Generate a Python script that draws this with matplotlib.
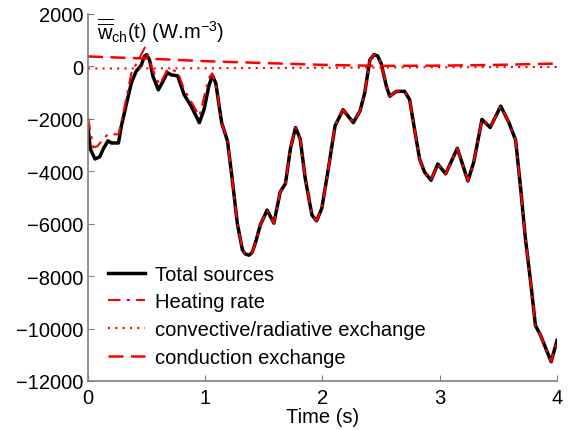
import matplotlib
matplotlib.use('Agg')
import matplotlib.pyplot as plt

plt.rcParams['font.family'] = ['Liberation Sans', 'DejaVu Sans']
plt.rcParams['mathtext.fontset'] = 'custom'
plt.rcParams['mathtext.rm'] = 'Liberation Sans'
plt.rcParams['mathtext.it'] = 'Liberation Sans'

# Total sources (black)
total_t = [0.00, 0.02, 0.06, 0.10, 0.13, 0.17, 0.20, 0.26, 0.285, 0.33, 0.37, 0.41,
           0.455, 0.48, 0.50, 0.525, 0.555, 0.60, 0.64, 0.675, 0.71, 0.765, 0.82, 0.88,
           0.95, 0.99, 1.03, 1.06, 1.09, 1.14, 1.19, 1.23, 1.274, 1.317, 1.34, 1.373,
           1.40, 1.43, 1.47, 1.528, 1.585, 1.64, 1.684, 1.726, 1.77, 1.81, 1.853, 1.91,
           1.95, 1.994, 2.05, 2.107, 2.175, 2.263, 2.32, 2.36, 2.404, 2.44, 2.47, 2.50,
           2.545, 2.574, 2.63, 2.70, 2.743, 2.785, 2.828, 2.87, 2.926, 2.983, 3.05,
           3.15, 3.24, 3.29, 3.36, 3.43, 3.52, 3.59, 3.647, 3.69, 3.73, 3.774,
           3.816, 3.86, 3.95, 4.00]
total_v = [-2270, -3150, -3530, -3450, -3150, -2840, -2920, -2920, -2270, -1390, -630, -195,
           55, 380, 450, 245, -385, -890, -570, -235, -320, -360, -1075, -1515,
           -2145, -1640, -760, -340, -635, -2145, -2850, -4300, -6000, -7000, -7150, -7200,
           -7100, -6700, -6045, -5480, -5980, -4785, -4470, -3150, -2330, -2770, -4280, -5670,
           -5890, -5415, -3900, -2270, -1650, -2145, -1700, -1010, 245, 450, 400, 120,
           -760, -1140, -950, -950, -1265, -2400, -3530, -4030, -4345, -3720, -4100,
           -3120, -4370, -3650, -2020, -2330, -1515, -2145, -2810, -4660, -6550, -8180,
           -9880, -10260, -11265, -10450]

# Heating rate: differs from total before ~1.15 s, then follows it
heat_early_t = [0.00, 0.045, 0.08, 0.13, 0.17, 0.26, 0.30, 0.37, 0.43, 0.485, 0.54,
                0.61, 0.68, 0.765, 0.82, 0.95, 1.03, 1.06, 1.10]
heat_early_v = [-1950, -3090, -3050, -2770, -2590, -2590, -1800, -260, 250, 720, 0,
                -700, -100, -195, -880, -1890, -450, -260, -890]
heat_t = heat_early_t + total_t[29:]
heat_v = heat_early_v + total_v[29:]

# Convective / radiative exchange
conv_t = [0.0, 1.0, 2.0, 3.0, 4.0]
conv_v = [-80, -70, -50, -30, -20]

# Conduction exchange
cond_t = [0.0, 0.5, 1.0, 1.5, 2.0, 2.5, 3.0, 3.5, 4.0]
cond_v = [380, 300, 200, 130, 60, 20, 30, 60, 110]

fs = 14.5

fig = plt.figure(figsize=(5.72, 4.31), dpi=100)
ax = fig.add_axes([0.1538, 0.1137, 0.8200, 0.8515])

ax.plot(total_t, total_v, color='black', lw=2.5, label='Total sources')
ax.plot(heat_t, heat_v, color='red', lw=1.5, linestyle=(0, (6, 3, 1.5, 3)), label='Heating rate')
ax.plot(conv_t, conv_v, color='red', lw=1.5, linestyle=(0, (1, 2.5)), label='convective/radiative exchange')
ax.plot(cond_t, cond_v, color='red', lw=1.8, linestyle=(0, (6, 3)), label='conduction exchange')

ax.set_xlim(0, 4)
ax.set_ylim(-12000, 2000)
ax.set_xticks([0, 1, 2, 3, 4])
ax.set_yticks(range(-12000, 2001, 2000))
ax.spines['top'].set_visible(False)
ax.spines['right'].set_visible(False)
for s in ['left', 'bottom']:
    ax.spines[s].set_color('#808080')
    ax.spines[s].set_linewidth(1.2)
ax.tick_params(direction='in', length=4, color='#808080', labelsize=fs)
ax.tick_params(axis='y', pad=3.5)
ax.tick_params(axis='x', pad=5)
ax.set_xlabel('Time (s)', fontsize=fs, labelpad=0)

ax.text(0.019, 0.958, r'$\overline{\overline{\mathrm{w}}}_{\mathrm{ch}}$(t) (W.m$^{-3}$)',
        transform=ax.transAxes, fontsize=fs, va='center', ha='left')

ax.legend(loc='upper left', bbox_to_anchor=(0.043, 0.317), frameon=False, fontsize=fs,
          handlelength=1.85, handletextpad=0.5, labelspacing=0.43, borderpad=0, borderaxespad=0)

fig.savefig('out.png', dpi=100)
